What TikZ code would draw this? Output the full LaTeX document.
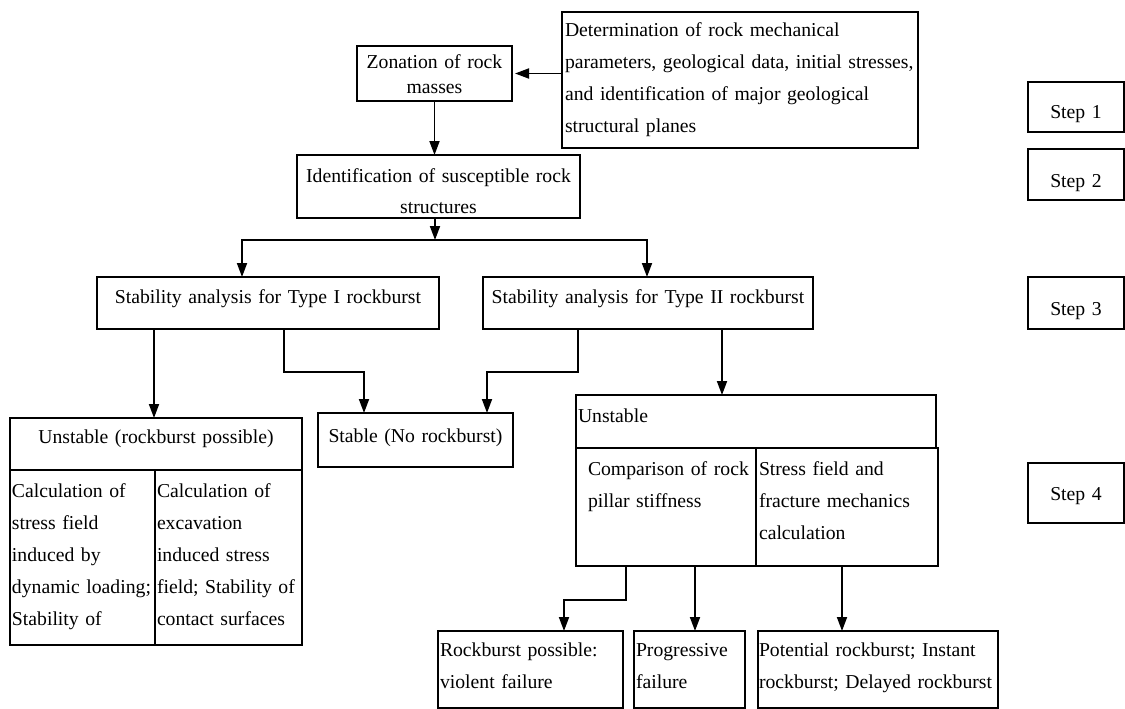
\documentclass[tikz,border=0pt]{standalone}
\usepackage{fontspec}
\setmainfont{Liberation Serif}
\usetikzlibrary{arrows.meta}
\begin{document}
\begin{tikzpicture}[x=1pt,y=-1pt,
 box/.style={draw, line width=1.8pt, inner sep=0pt, outer sep=0pt, anchor=north west},
 txt/.style={inner sep=0pt, outer sep=0pt, font=\fontsize{19.7}{32}\selectfont, align=left, text width=#1, anchor=base west},
 ctxt/.style={inner sep=0pt, outer sep=0pt, font=\fontsize{19.7}{32}\selectfont, align=center, text width=#1, anchor=base},
 arr/.style={line width=1.8pt, -{Triangle[length=14pt,width=10pt]}}]
\useasboundingbox (0,0) rectangle (1125,709);

% boxes
\node[box, minimum width=155pt, minimum height=55pt] (zon) at (357,46) {};
\node[box, minimum width=356pt, minimum height=136pt] (det) at (562,12) {};
\node[box, minimum width=283pt, minimum height=63pt] (ident) at (297,155) {};
\node[box, minimum width=342pt, minimum height=52pt] (t1) at (97,277) {};
\node[box, minimum width=330pt, minimum height=52pt] (t2) at (483,277) {};
\node[box, minimum width=195pt, minimum height=54pt] (stable) at (318,413) {};
\node[box, minimum width=292pt, minimum height=52pt] (u1) at (10,418) {};
\node[box, minimum width=145pt, minimum height=175pt] (u1a) at (10,470) {};
\node[box, minimum width=147pt, minimum height=175pt] (u1b) at (155,470) {};
\node[box, minimum width=360pt, minimum height=53pt] (u2) at (576,395) {};
\node[box, minimum width=180pt, minimum height=118pt] (u2a) at (576,448) {};
\node[box, minimum width=182pt, minimum height=118pt] (u2b) at (756,448) {};
\node[box, minimum width=185pt, minimum height=77pt] (r1) at (438,631) {};
\node[box, minimum width=111pt, minimum height=77pt] (r2) at (634,631) {};
\node[box, minimum width=240pt, minimum height=77pt] (r3) at (758,631) {};
\node[box, minimum width=96pt, minimum height=50pt] (s1) at (1028,82) {};
\node[box, minimum width=96pt, minimum height=51pt] (s2) at (1028,149) {};
\node[box, minimum width=96pt, minimum height=52pt] (s3) at (1028,277) {};
\node[box, minimum width=96pt, minimum height=60pt] (s4) at (1028,463) {};

% texts
\node[ctxt=155pt, font=\fontsize{19.7}{25}\selectfont] (zonT) at (434.5,69) {Zonation of rock\\masses};
\node[txt=400pt] (detT) at (565,37) {Determination of rock mechanical\\parameters, geological data, initial stresses,\\and identification of major geological\\structural planes};
\node[ctxt=283pt] (identT) at (438.5,182) {Identification of susceptible rock\\structures};
\node[ctxt=342pt] (t1T) at (268,303) {Stability analysis for Type I rockburst};
\node[ctxt=330pt] (t2T) at (648,303) {Stability analysis for Type II rockburst};
\node[ctxt=195pt] (stableT) at (415.5,442) {Stable (No rockburst)};
\node[ctxt=292pt] (u1T) at (156,443) {Unstable (rockburst possible)};
\node[txt=300pt] (u1aT) at (12,497) {Calculation of\\stress field\\induced by\\dynamic loading;\\Stability of};
\node[txt=300pt] (u1bT) at (157,497) {Calculation of\\excavation\\induced stress\\field; Stability of\\contact surfaces};
\node[txt=300pt] (u2T) at (578,422) {Unstable};
\node[txt=300pt] (u2aT) at (588,475) {Comparison of rock\\pillar stiffness};
\node[txt=300pt] (u2bT) at (759,475) {Stress field and\\fracture mechanics\\calculation};
\node[txt=300pt] (r1T) at (440,656) {Rockburst possible:\\violent failure};
\node[txt=300pt] (r2T) at (636,656) {Progressive\\failure};
\node[txt=400pt] (r3T) at (759,656) {Potential rockburst; Instant\\rockburst; Delayed rockburst};
\node[ctxt=96pt] (s1T) at (1076,118) {Step 1};
\node[ctxt=96pt] (s2T) at (1076,187) {Step 2};
\node[ctxt=96pt] (s3T) at (1076,315) {Step 3};
\node[ctxt=96pt] (s4T) at (1076,500) {Step 4};

% connectors
\coordinate (split) at (435,240);
\draw[arr] (det.west |- zon.east) -- ([xshift=3pt]zon.east);
\draw[arr] (zon.south) -- (zon.south |- ident.north);
\draw[arr] (ident.south -| split) -- (split);
\draw[arr] (split) -| ([xshift=145pt]t1.north west);
\draw[arr] (split) -| ([xshift=164pt]t2.north west);
\draw[arr] ([xshift=57pt]t1.south west) -- ([xshift=57pt]t1.south west |- u1.north);
\draw[arr] ([xshift=187pt]t1.south west) -- ++(0,43) -| ([xshift=46pt]stable.north west);
\draw[arr] ([xshift=95pt]t2.south west) -- ++(0,43) -| ([xshift=169pt]stable.north west);
\draw[arr] ([xshift=239pt]t2.south west) -- ([xshift=239pt]t2.south west |- u2.north);
\draw[arr] ([xshift=50pt]u2a.south west) -- ++(0,34) -| ([xshift=126pt]r1.north west);
\draw[arr] ([xshift=119pt]u2a.south west) -- ([xshift=119pt]u2a.south west |- r2.north);
\draw[arr] ([xshift=86pt]u2b.south west) -- ([xshift=86pt]u2b.south west |- r3.north);
\end{tikzpicture}
\end{document}
